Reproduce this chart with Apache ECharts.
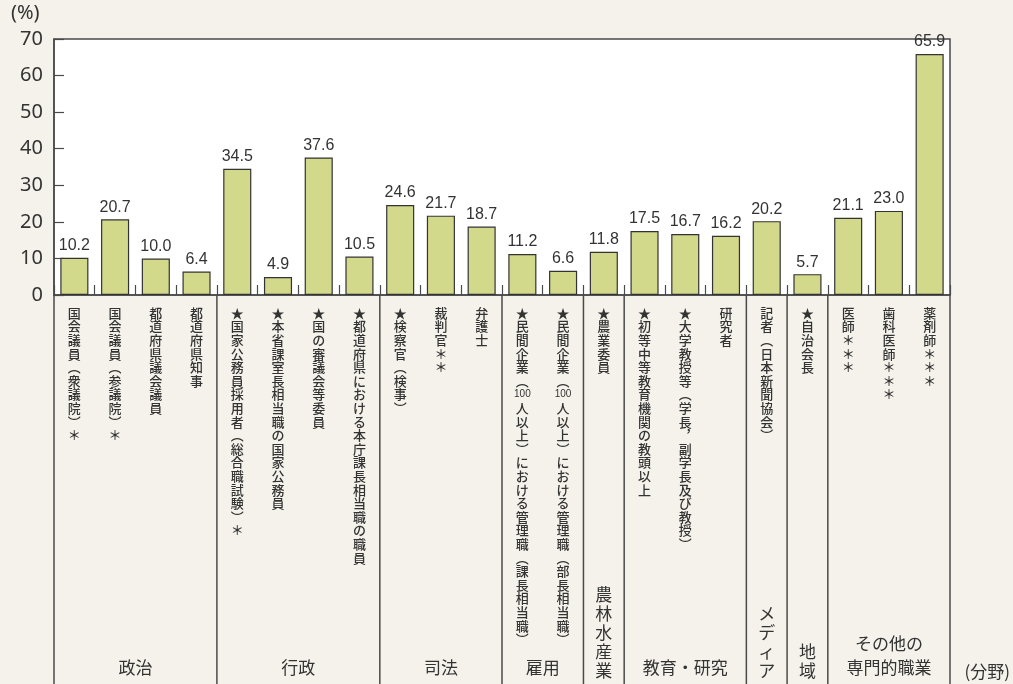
<!DOCTYPE html>
<html lang="ja">
<head>
    <meta charset="UTF-8">
    <title>各分野における主な「指導的地位」に女性が占める割合</title>
    <script type="text/javascript" src="https://cdn.jsdelivr.net/npm/echarts@6/dist/echarts.min.js"></script>
    <style>
        body { margin: 0; background: #f4f2ea; }
    </style>
</head>

<body>
<div id="chartmain" style="width:1013px;height:684px"></div>
<script>
    // 職種（横書きで保持、縦書きへの変換は描画時）
    var categories = [
        '国会議員（衆議院）＊', '国会議員（参議院）＊', '都道府県議会議員', '都道府県知事',
        '★国家公務員採用者（総合職試験）＊', '★本省課室長相当職の国家公務員', '★国の審議会等委員', '★都道府県における本庁課長相当職の職員',
        '★検察官（検事）', '裁判官＊＊', '弁護士',
        '★民間企業（100人以上）における管理職（課長相当職）', '★民間企業（100人以上）における管理職（部長相当職）',
        '★農業委員',
        '★初等中等教育機関の教頭以上', '★大学教授等（学長，副学長及び教授）', '研究者',
        '記者（日本新聞協会）',
        '★自治会長',
        '医師＊＊＊', '歯科医師＊＊＊', '薬剤師＊＊＊'
    ];
    var values = [10.2, 20.7, 10.0, 6.4, 34.5, 4.9, 37.6, 10.5, 24.6, 21.7, 18.7,
        11.2, 6.6, 11.8, 17.5, 16.7, 16.2, 20.2, 5.7, 21.1, 23.0, 65.9];

    // 分野と、その分野に含まれる職種の数
    var groupNames = ['政治', '行政', '司法', '雇用', '農林水産業', '教育・研究', 'メディア', '地域', 'その他の\n専門的職業'];
    var groupSizes = [4, 4, 3, 2, 1, 3, 1, 1, 3];

    var yTicks = [0, 10, 20, 30, 40, 50, 60, 70];

    var CJK = '"Noto Sans CJK JP", "Noto Sans", sans-serif';
    var LINE = '#4a4a4a';

    // 縦書き風に1文字ずつ改行（括弧などは縦書き用の字形に）
    function vert(s) {
        var map = {'（': '︵', '）': '︶', '，': '︐', '、': '︑'};
        var tokens = s.match(/\d+|./g);
        return tokens.map(function (t) {
            if (/^\d+$/.test(t)) return '{n|' + t + '}';
            return '{c|' + (map[t] || t) + '}';
        }).join('\n');
    }

    var groupData = [];
    var start = 0;
    for (var i = 0; i < groupSizes.length; i++) {
        groupData.push([start, groupSizes[i]]);
        start += groupSizes[i];
    }

    var option = {
        animation: false,
        backgroundColor: '#f4f2ea',
        grid: {
            left: 54, right: 63, top: 39, bottom: 389,
            show: true, backgroundColor: '#ffffff',
            borderColor: LINE, borderWidth: 1.5
        },
        graphic: [
            {type: 'text', left: 11, top: 3,
                style: {text: '(%)', fontSize: 20, fontFamily: 'Noto Sans, sans-serif', fill: '#333'}},
            {type: 'text', right: 3, bottom: 4,
                style: {text: '(分野)', fontSize: 17, fontFamily: CJK, fill: '#333'}}
        ],
        xAxis: {
            type: 'category',
            data: categories,
            axisLine: {show: true, lineStyle: {color: LINE, width: 1.5}},
            axisTick: {show: true, inside: true, length: 10, interval: 0, lineStyle: {color: LINE, width: 1.2}},
            axisLabel: {
                interval: 0, margin: 11, color: '#333',
                formatter: function (v) { return vert(v); },
                rich: {
                    c: {fontSize: 13, lineHeight: 13.6, fontFamily: CJK, fontWeight: 500, color: '#333'},
                    n: {fontSize: 10, lineHeight: 13.6, fontFamily: 'Liberation Sans, sans-serif', color: '#333'}
                }
            }
        },
        yAxis: {
            type: 'value',
            min: 0, max: 70, interval: 10,
            axisLine: {show: true, lineStyle: {color: LINE, width: 1.5}},
            axisTick: {show: true, inside: true, length: 10, lineStyle: {color: LINE, width: 1.2}},
            splitLine: {show: false},
            axisLabel: {
                margin: 11, fontSize: 20, color: '#333', fontFamily: 'Noto Sans, sans-serif',
                formatter: function (v) { return yTicks.indexOf(v) >= 0 ? String(v) : ''; }
            }
        },
        series: [
            {
                type: 'bar',
                data: values,
                barWidth: '69%',
                itemStyle: {color: '#d3d98b', borderColor: '#333', borderWidth: 1.2},
                label: {
                    show: true, position: 'top', distance: 4,
                    fontSize: 16, color: '#333',
                    fontFamily: '"Liberation Sans Narrow", "Liberation Sans", sans-serif',
                    formatter: function (p) { return p.value.toFixed(1); }
                }
            },
            {
                type: 'custom',
                silent: true,
                clip: false,
                data: groupData,
                encode: {x: 0},
                renderItem: function (params, api) {
                    var s = api.value(0), n = api.value(1);
                    var bw = api.size([1, 0])[0];
                    var p = api.coord([s, 0]);
                    var x0 = p[0] - bw / 2, x1 = x0 + n * bw, y0 = p[1];
                    var H = api.getHeight();
                    var name = groupNames[params.dataIndex];
                    if (n === 1) name = name.split('').join('\n');
                    var children = [
                        {type: 'line', shape: {x1: x1, y1: y0, x2: x1, y2: H},
                            style: {stroke: LINE, lineWidth: 1.5}},
                        {type: 'text', style: {
                            text: name, x: (x0 + x1) / 2, y: H - 4,
                            align: 'center', verticalAlign: 'bottom',
                            fontSize: 17, lineHeight: n === 1 ? 19 : 24,
                            fontFamily: CJK, fill: '#333'
                        }}
                    ];
                    if (params.dataIndex === 0) {
                        children.push({type: 'line', shape: {x1: x0, y1: y0, x2: x0, y2: H},
                            style: {stroke: LINE, lineWidth: 1.5}});
                    }
                    return {type: 'group', children: children};
                }
            }
        ]
    };

    var myChart = echarts.init(document.getElementById('chartmain'));
    myChart.setOption(option);
</script>
</body>
</html>
